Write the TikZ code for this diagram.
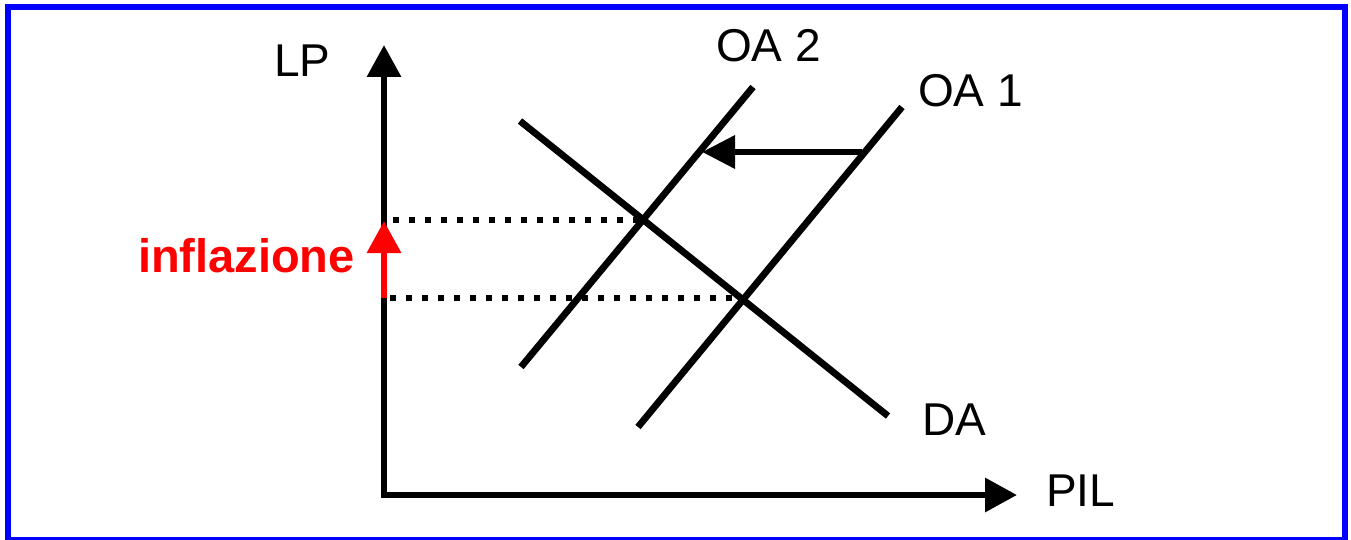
\documentclass[tikz,border=0pt]{standalone}
\usepackage{fontspec}
\setmainfont{Liberation Sans}
\usetikzlibrary{arrows.meta}
\tikzset{
  lbl/.style={anchor=base west, inner sep=0pt, outer sep=0pt, font=\fontsize{46}{50}\selectfont},
  curve/.style={line width=6.8pt, black},
  axis/.style={line width=6.4pt, black, line join=miter, {Triangle[length=32pt,width=33pt]}-{Triangle[length=32pt,width=33pt]}},
  guide/.style={line width=6.4pt, black, dash pattern=on 6.4pt off 9.6pt},
  shiftarrow/.style={line width=6.6pt, black, -{Triangle[length=33pt,width=32pt]}},
  infl/.style={line width=6.4pt, red, -{Triangle[length=32pt,width=33pt]}}
}
\begin{document}
\begin{tikzpicture}[x=1pt,y=-1pt]
\useasboundingbox (0,0) rectangle (1351,540);
\draw[blue, line width=6pt] (8,7) rectangle (1345,540);
% axes
\coordinate (ytip) at (384,45);
\coordinate (origin) at (384,495);
\coordinate (xtip) at (1017,495);
\draw[axis] (ytip) -- (origin) -- (xtip);
% curves
\coordinate (da1) at (520,121);
\coordinate (da2) at (888,416);
\coordinate (oa2a) at (521,367);
\coordinate (oa2b) at (753,87);
\coordinate (oa1a) at (638,427);
\coordinate (oa1b) at (902,107);
\draw[curve] (da1) -- (da2);
\draw[curve] (oa2a) -- (oa2b);
\draw[curve] (oa1a) -- (oa1b);
% equilibria
\coordinate (e2) at (642,220);
\coordinate (e1) at (742,298);
\coordinate (p2) at (393,220);
\coordinate (p1) at (390,298);
\draw[guide] (p2) -- (e2);
\draw[guide] (p1) -- (e1);
% shift arrow
\coordinate (s1) at (862,152);
\coordinate (s2) at (702,152);
\draw[shiftarrow] (s1) -- (s2);
% inflation arrow
\coordinate (i1) at (384,298);
\coordinate (i2) at (384,221);
\draw[infl] (i1) -- (i2);
% labels
\node[lbl] (lp) at (274,77) {LP};
\node[lbl] (pil) at (1046,506) {PIL};
\node[lbl] (oa2) at (716,62) {OA 2};
\node[lbl] (oa1) at (918,107) {OA 1};
\node[lbl] (da) at (922,435) {DA};
\node[lbl, text=red, font=\fontsize{47}{50}\selectfont\bfseries] (inf) at (138,272) {inflazione};
\end{tikzpicture}
\end{document}
